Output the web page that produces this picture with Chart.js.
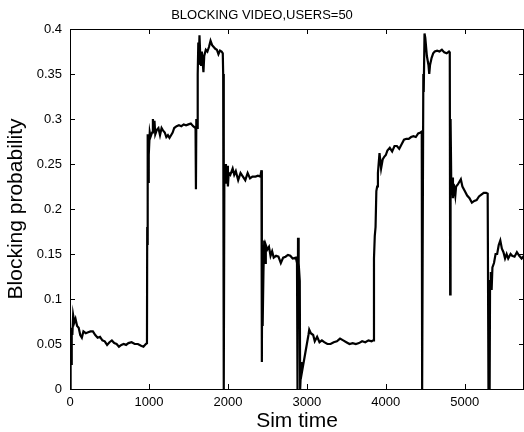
<!DOCTYPE html>
<html>
<head>
<meta charset="utf-8">
<script src="https://cdn.jsdelivr.net/npm/chart.js@4/dist/chart.umd.min.js"></script>
<style>
  body { margin: 0; background: #fff; }
  #wrap { width: 524px; height: 432px; }
</style>
</head>
<body>
<div id="wrap"><canvas id="chart" width="524" height="432"></canvas></div>
<script>
// Sim time and blocking probability
var simTime = [
  0, 3, 8, 12, 16, 22, 30, 40, 55, 70, 90, 110, 130, 150, 170, 200, 230, 260, 290, 320,
  350, 380, 410, 440, 470, 500, 530, 560, 590, 620, 650, 680, 710, 740, 780, 820, 860, 900, 930, 960,
  975, 978, 982, 986, 990, 995, 1000, 1010, 1020, 1040, 1050, 1060, 1070, 1080, 1100, 1120, 1140, 1160, 1180, 1200,
  1220, 1240, 1260, 1280, 1300, 1320, 1350, 1380, 1410, 1440, 1470, 1500, 1530, 1560, 1590, 1595, 1600, 1610, 1615, 1620,
  1625, 1630, 1640, 1650, 1660, 1670, 1690, 1700, 1720, 1740, 1760, 1780, 1800, 1820, 1840, 1860, 1880, 1900, 1920, 1935,
  1940, 1945, 1950, 1955, 1965, 1975, 1990, 2000, 2010, 2030, 2060, 2080, 2100, 2130, 2160, 2190, 2220, 2250, 2280, 2310,
  2350, 2380, 2410, 2425, 2430, 2435, 2440, 2450, 2460, 2470, 2480, 2500, 2520, 2540, 2560, 2580, 2610, 2640, 2670, 2700,
  2730, 2760, 2790, 2820, 2860, 2875, 2878, 2885, 2888, 2892, 2900, 2910, 2915, 2925, 2930, 2940, 2960, 2980, 3000, 3020,
  3030, 3050, 3080, 3100, 3130, 3160, 3190, 3220, 3260, 3300, 3340, 3380, 3420, 3460, 3500, 3540, 3580, 3620, 3660, 3700,
  3740, 3780, 3820, 3840, 3850, 3860, 3870, 3880, 3890, 3900, 3920, 3940, 3960, 3980, 4000, 4020, 4050, 4080, 4110, 4140,
  4170, 4200, 4230, 4260, 4290, 4320, 4350, 4380, 4410, 4440, 4455, 4460, 4470, 4475, 4480, 4490, 4500, 4520, 4540, 4550,
  4560, 4580, 4600, 4620, 4650, 4680, 4710, 4740, 4770, 4800, 4810, 4815, 4820, 4830, 4840, 4850, 4860, 4880, 4890, 4910,
  4930, 4950, 4970, 5000, 5030, 5060, 5090, 5120, 5150, 5180, 5210, 5240, 5270, 5290, 5300, 5315, 5320, 5330, 5340, 5350,
  5370, 5390, 5410, 5430, 5450, 5470, 5490, 5510, 5530, 5550, 5580, 5600, 5630, 5660, 5690, 5720, 5750
];
var blocking = [
  0, 0.065, 0.03, 0.066, 0.028, 0.068, 0.06, 0.082, 0.074, 0.078, 0.07, 0.068, 0.06, 0.057, 0.064, 0.062, 0.063, 0.064, 0.064, 0.06,
  0.057, 0.058, 0.054, 0.053, 0.049, 0.052, 0.054, 0.051, 0.05, 0.047, 0.049, 0.05, 0.049, 0.051, 0.052, 0.05, 0.05, 0.048, 0.047, 0.05,
  0.051, 0.18, 0.16, 0.283, 0.23, 0.27, 0.26, 0.285, 0.28, 0.285, 0.3, 0.29, 0.298, 0.283, 0.288, 0.29, 0.282, 0.29, 0.287, 0.285,
  0.28, 0.282, 0.279, 0.282, 0.285, 0.29, 0.292, 0.293, 0.292, 0.294, 0.293, 0.294, 0.295, 0.292, 0.29, 0.222, 0.3, 0.29, 0.31, 0.35,
  0.385, 0.36, 0.393, 0.37, 0.36, 0.375, 0.352, 0.37, 0.377, 0.375, 0.38, 0.387, 0.382, 0.38, 0.378, 0.377, 0.372, 0.376, 0.375, 0.373,
  0.35, 0, 0, 0.24, 0.25, 0.228, 0.248, 0.225, 0.24, 0.238, 0.245, 0.238, 0.242, 0.232, 0.24, 0.236, 0.232, 0.24, 0.234, 0.236,
  0.236, 0.237, 0.236, 0.243, 0.03, 0.16, 0.07, 0.13, 0.165, 0.14, 0.16, 0.155, 0.158, 0.148, 0.153, 0.146, 0.148, 0.147, 0.14, 0.146,
  0.147, 0.149, 0.148, 0.145, 0.146, 0.14, 0, 0, 0.168, 0.11, 0.14, 0.12, 0, 0, 0.03, 0.02, 0.03, 0.04, 0.05, 0.06,
  0.066, 0.062, 0.06, 0.053, 0.058, 0.052, 0.054, 0.052, 0.05, 0.05, 0.052, 0.053, 0.056, 0.054, 0.052, 0.05, 0.051, 0.05, 0.051, 0.053,
  0.052, 0.054, 0.053, 0.054, 0.145, 0.17, 0.18, 0.22, 0.225, 0.24, 0.262, 0.245, 0.255, 0.258, 0.26, 0.265, 0.268, 0.264, 0.27, 0.27,
  0.267, 0.272, 0.277, 0.278, 0.278, 0.28, 0.281, 0.28, 0.284, 0.285, 0.286, 0, 0, 0.35, 0.33, 0.395, 0.39, 0.37, 0.36, 0.35,
  0.36, 0.368, 0.373, 0.375, 0.376, 0.375, 0.377, 0.374, 0.373, 0.375, 0.374, 0.105, 0.3, 0.22, 0.235, 0.212, 0.228, 0.215, 0.225, 0.227,
  0.23, 0.233, 0.225, 0.22, 0.215, 0.212, 0.207, 0.209, 0.21, 0.214, 0.216, 0.218, 0.218, 0.217, 0, 0, 0.12, 0.13, 0.11, 0.135,
  0.14, 0.15, 0.15, 0.16, 0.165, 0.156, 0.152, 0.145, 0.15, 0.145, 0.15, 0.148, 0.147, 0.152, 0.148, 0.145, 0.148
];

// axis ranges and tick labels
var xMin = 0, xMax = 5750;
var xTicks = [0, 1000, 2000, 3000, 4000, 5000];
var yMin = 0, yMax = 0.4;
var yTicks = [0, 0.05, 0.1, 0.15, 0.2, 0.25, 0.3, 0.35, 0.4];

var points = [];
for (var i = 0; i < simTime.length; i++) {
  points.push({ x: simTime[i], y: blocking[i] });
}

var fontFamily = "'Liberation Sans', Arial, sans-serif";

// MATLAB style box: top/right frame plus inward tick marks on all four sides
var boxTicks = {
  id: "boxTicks",
  afterDraw: function (chart) {
    var ctx = chart.ctx;
    var a = chart.chartArea;
    var xs = chart.scales.x, ys = chart.scales.y;
    var len = 5;
    ctx.save();
    ctx.strokeStyle = "#000";
    ctx.lineWidth = 1;
    ctx.beginPath();
    ctx.moveTo(a.left, a.top + 0.5);
    ctx.lineTo(a.right, a.top + 0.5);
    ctx.moveTo(a.right - 0.5, a.top);
    ctx.lineTo(a.right - 0.5, a.bottom);
    xs.ticks.forEach(function (t, i) {
      var px = Math.round(xs.getPixelForTick(i)) + 0.5;
      ctx.moveTo(px, a.bottom);
      ctx.lineTo(px, a.bottom - len);
      ctx.moveTo(px, a.top);
      ctx.lineTo(px, a.top + len);
    });
    ys.ticks.forEach(function (t, i) {
      var py = Math.round(ys.getPixelForTick(i)) + 0.5;
      ctx.moveTo(a.left, py);
      ctx.lineTo(a.left + len, py);
      ctx.moveTo(a.right, py);
      ctx.lineTo(a.right - len, py);
    });
    ctx.stroke();
    ctx.restore();
  }
};

function fixedTicks(list) {
  return function (scale) {
    scale.ticks = list.map(function (v) { return { value: v }; });
  };
}

new Chart(document.getElementById("chart"), {
  type: "line",
  data: {
    datasets: [{
      data: points,
      borderColor: "#000",
      borderWidth: 2.2,
      pointRadius: 0,
      tension: 0,
      fill: false
    }]
  },
  options: {
    responsive: false,
    animation: false,
    devicePixelRatio: 1,
    layout: { padding: 0 },
    plugins: {
      legend: { display: false },
      tooltip: { enabled: false },
      title: {
        display: true,
        text: "BLOCKING VIDEO,USERS=50",
        color: "#000",
        font: { family: fontFamily, size: 13, weight: "normal", lineHeight: 1.2 },
        padding: { top: 8, bottom: 5.4 }
      }
    },
    scales: {
      x: {
        type: "linear",
        min: xMin,
        max: xMax,
        afterBuildTicks: fixedTicks(xTicks),
        grid: { display: false, drawTicks: false },
        border: { display: true, color: "#000", width: 1 },
        ticks: {
          color: "#000",
          padding: 6,
          maxRotation: 0,
          autoSkip: false,
          font: { family: fontFamily, size: 13 },
          callback: function (v) { return String(v); }
        },
        title: {
          display: true,
          text: "Sim time",
          color: "#000",
          font: { family: fontFamily, size: 21, lineHeight: 1 },
          padding: { top: 0, bottom: 0.5 }
        },
        afterFit: function (scale) { scale.height = 43; }
      },
      y: {
        type: "linear",
        min: yMin,
        max: yMax,
        afterBuildTicks: fixedTicks(yTicks),
        grid: { display: false, drawTicks: false },
        border: { display: true, color: "#000", width: 1 },
        ticks: {
          color: "#000",
          padding: 8,
          autoSkip: false,
          font: { family: fontFamily, size: 13 },
          callback: function (v) { return String(Number(v.toFixed(2))); }
        },
        title: {
          display: true,
          text: "Blocking probability",
          color: "#000",
          font: { family: fontFamily, size: 21, lineHeight: 1 },
          padding: { top: 5.5, bottom: 0 }
        },
        afterFit: function (scale) { scale.width = 70; }
      }
    }
  },
  plugins: [boxTicks]
});
</script>
</body>
</html>
